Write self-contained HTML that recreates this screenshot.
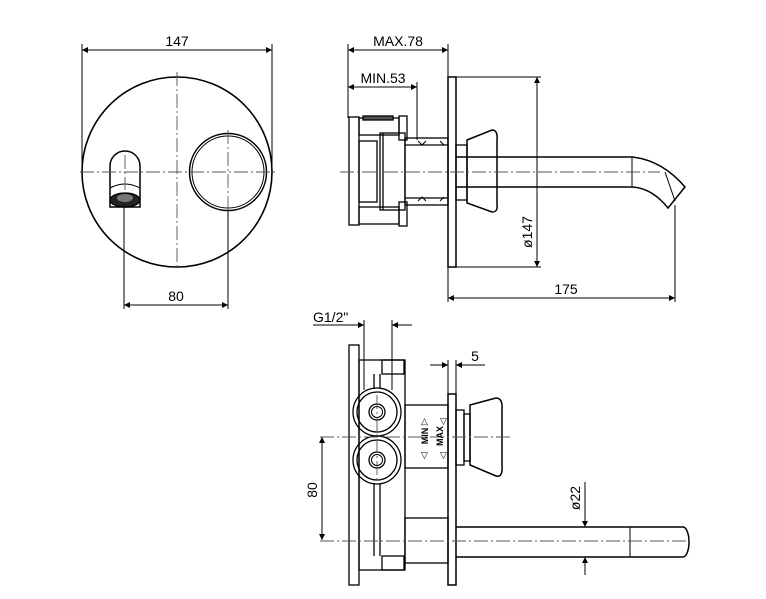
<!DOCTYPE html>
<html><head><meta charset="utf-8"><style>
html,body{margin:0;padding:0;background:#fff;}
svg{display:block;}
text{font-family:"Liberation Sans",sans-serif;font-size:14px;fill:#000;}
</style></head><body>
<svg width="766" height="599" viewBox="0 0 766 599" xmlns="http://www.w3.org/2000/svg">
<defs>
<marker id="a" viewBox="0 0 10 10" refX="10" refY="5" markerWidth="9" markerHeight="6" orient="auto-start-reverse" markerUnits="userSpaceOnUse"><path d="M0,0 L10,5 L0,10 z" fill="#000"/></marker>
</defs>
<g fill="none" stroke="#000" stroke-width="1.3">
<!-- VIEW 1 -->
<circle cx="177" cy="172" r="95" stroke-width="1.6"/>
<circle cx="228" cy="172" r="38.5" stroke-width="1.5"/>
<circle cx="228" cy="172" r="36" stroke-width="1"/>
<path d="M110,207 V166 A15,15 0 0 1 140,166 V207 Z" stroke-width="1.5"/>
<path d="M110,188 Q125,180 140,188" stroke-width="1"/>
<ellipse cx="125" cy="200" rx="15" ry="7" fill="#222"/>
<ellipse cx="125" cy="198" rx="8" ry="4" fill="#777" stroke="none"/>
<g stroke="#555" stroke-width="0.9" stroke-dasharray="14,3,2,3">
<line x1="177" y1="72" x2="177" y2="270"/>
<line x1="80" y1="172" x2="275" y2="172"/>
<line x1="228" y1="130" x2="228" y2="215"/>
<line x1="125" y1="155" x2="125" y2="190"/>
</g>
<line x1="82" y1="44" x2="82" y2="172" stroke-width="1"/>
<line x1="272" y1="44" x2="272" y2="172" stroke-width="1"/>
<line x1="82" y1="50" x2="272" y2="50" stroke-width="1" marker-start="url(#a)" marker-end="url(#a)"/>
<line x1="124" y1="207" x2="124" y2="309" stroke-width="1"/>
<line x1="228" y1="211" x2="228" y2="309" stroke-width="1"/>
<line x1="124" y1="305" x2="228" y2="305" stroke-width="1" marker-start="url(#a)" marker-end="url(#a)"/>

<!-- VIEW 2 -->
<rect x="448" y="77" width="8" height="190" stroke-width="1.5"/>
<line x1="348" y1="44" x2="348" y2="118" stroke-width="1"/>
<line x1="448" y1="44" x2="448" y2="77" stroke-width="1"/>
<line x1="348" y1="50" x2="448" y2="50" stroke-width="1" marker-start="url(#a)" marker-end="url(#a)"/>
<line x1="417" y1="82" x2="417" y2="140" stroke-width="1"/>
<line x1="348" y1="87" x2="417" y2="87" stroke-width="1" marker-start="url(#a)" marker-end="url(#a)"/>
<rect x="349" y="117" width="10" height="108"/>
<rect x="359" y="118" width="40" height="17"/>
<rect x="363" y="116" width="30" height="4" fill="#555"/>
<rect x="359" y="207" width="40" height="17"/>
<rect x="399" y="116" width="8" height="24"/>
<rect x="399" y="202" width="8" height="24"/>
<rect x="359" y="141" width="18" height="61"/>
<rect x="380" y="133" width="25" height="77"/>
<line x1="383" y1="133" x2="383" y2="210"/>
<rect x="405" y="138" width="43" height="67"/>
<line x1="405" y1="145" x2="448" y2="145"/><line x1="405" y1="198" x2="448" y2="198"/>
<path d="M418,141 l4,4 l4,-4 M440,141 l4,4 l-4,0 M418,201 l4,-4 l4,4 M440,201 l4,-4" stroke-width="1"/>
<rect x="456" y="145" width="11" height="55"/>
<path d="M467,140 L492,130 Q498,130 497,140 L497,205 Q498,212 492,212 L467,203 Z" stroke-width="1.5"/>
<path d="M456,157 H632 Q662,160 685,187 L668,208 Q652,188 632,187 H456" stroke-width="1.5"/>
<line x1="632" y1="157" x2="632" y2="187" stroke-width="1"/>
<line x1="665" y1="172" x2="675" y2="201" stroke-width="1"/>
<g stroke="#555" stroke-width="0.9" stroke-dasharray="14,3,2,3">
<line x1="340" y1="172" x2="660" y2="172"/>
</g>
<line x1="456" y1="77" x2="541" y2="77" stroke-width="1"/>
<line x1="456" y1="267" x2="541" y2="267" stroke-width="1"/>
<line x1="537" y1="77" x2="537" y2="267" stroke-width="1" marker-start="url(#a)" marker-end="url(#a)"/>
<line x1="448" y1="267" x2="448" y2="302" stroke-width="1"/>
<line x1="675" y1="205" x2="675" y2="302" stroke-width="1"/>
<line x1="448" y1="298" x2="675" y2="298" stroke-width="1" marker-start="url(#a)" marker-end="url(#a)"/>

<!-- VIEW 3 -->
<line x1="313" y1="325" x2="364" y2="325" stroke-width="1" marker-end="url(#a)"/>
<line x1="412" y1="325" x2="392" y2="325" stroke-width="1" marker-end="url(#a)"/>
<line x1="364" y1="320" x2="364" y2="390" stroke-width="1"/>
<line x1="392" y1="320" x2="392" y2="390" stroke-width="1"/>
<rect x="349" y="345" width="10" height="240"/>
<rect x="359" y="360" width="46" height="210"/>
<rect x="382" y="360" width="22" height="14"/>
<rect x="382" y="556" width="22" height="14"/>
<line x1="374" y1="374" x2="374" y2="389"/><line x1="380" y1="374" x2="380" y2="389"/>
<line x1="374" y1="483" x2="374" y2="556"/><line x1="380" y1="483" x2="380" y2="556"/>
<circle cx="377" cy="412" r="24"/><circle cx="377" cy="412" r="20"/>
<circle cx="377" cy="412" r="8"/><circle cx="377" cy="412" r="5.5" stroke-width="1"/>
<circle cx="377" cy="460" r="24"/><circle cx="377" cy="460" r="20"/>
<circle cx="377" cy="460" r="8"/><circle cx="377" cy="460" r="5.5" stroke-width="1"/>
<rect x="405" y="405" width="43" height="63"/>
<rect x="405" y="518" width="43" height="45"/>
<rect x="448" y="394" width="8" height="191" stroke-width="1.5"/>
<rect x="456" y="410" width="8" height="55"/>
<rect x="464" y="414" width="6" height="47"/>
<path d="M470,405 L496,398 Q503,398 502,410 L502,465 Q503,478 496,476 L470,465 Z" stroke-width="1.5"/>
<path d="M456,527 H683 A6,15 0 0 1 683,557 H456" stroke-width="1.5"/>
<line x1="630" y1="527" x2="630" y2="557" stroke-width="1"/>
<g stroke="#555" stroke-width="0.9" stroke-dasharray="14,3,2,3">
<line x1="320" y1="437" x2="510" y2="437"/>
<line x1="320" y1="541" x2="690" y2="541"/>
<line x1="377" y1="395" x2="377" y2="480"/>
</g>
<line x1="322" y1="437" x2="322" y2="540" stroke-width="1" marker-start="url(#a)" marker-end="url(#a)"/>
<line x1="448" y1="360" x2="448" y2="394" stroke-width="1"/>
<line x1="456" y1="360" x2="456" y2="394" stroke-width="1"/>
<line x1="430" y1="365" x2="448" y2="365" stroke-width="1" marker-end="url(#a)"/>
<line x1="485" y1="365" x2="456" y2="365" stroke-width="1" marker-end="url(#a)"/>
<line x1="585" y1="482" x2="585" y2="527" stroke-width="1" marker-end="url(#a)"/>
<line x1="585" y1="575" x2="585" y2="557" stroke-width="1" marker-end="url(#a)"/>
</g>
<g>
<text x="177" y="46" text-anchor="middle">147</text>
<text x="176" y="301" text-anchor="middle">80</text>
<text x="398" y="46" text-anchor="middle">MAX.78</text>
<text x="383" y="83" text-anchor="middle">MIN.53</text>
<text x="566" y="294" text-anchor="middle">175</text>
<text transform="translate(532,232) rotate(-90)" text-anchor="middle">ø147</text>
<text x="313" y="322">G1/2"</text>
<text x="475" y="361" text-anchor="middle">5</text>
<text transform="translate(317,490) rotate(-90)" text-anchor="middle">80</text>
<text transform="translate(580,498) rotate(-90)" text-anchor="middle">ø22</text>
<text transform="translate(428,436) rotate(-90)" text-anchor="middle" style="font-size:9px;font-weight:bold">MIN</text>
<text transform="translate(443,436) rotate(-90)" text-anchor="middle" style="font-size:9px;font-weight:bold">MAX</text>
<text x="421" y="424" style="font-size:9px">△</text>
<text x="421" y="458" style="font-size:9px">▽</text>
<text x="440" y="424" style="font-size:9px">▽</text>
<text x="440" y="458" style="font-size:9px">▽</text>
</g>
</svg>
</body></html>
